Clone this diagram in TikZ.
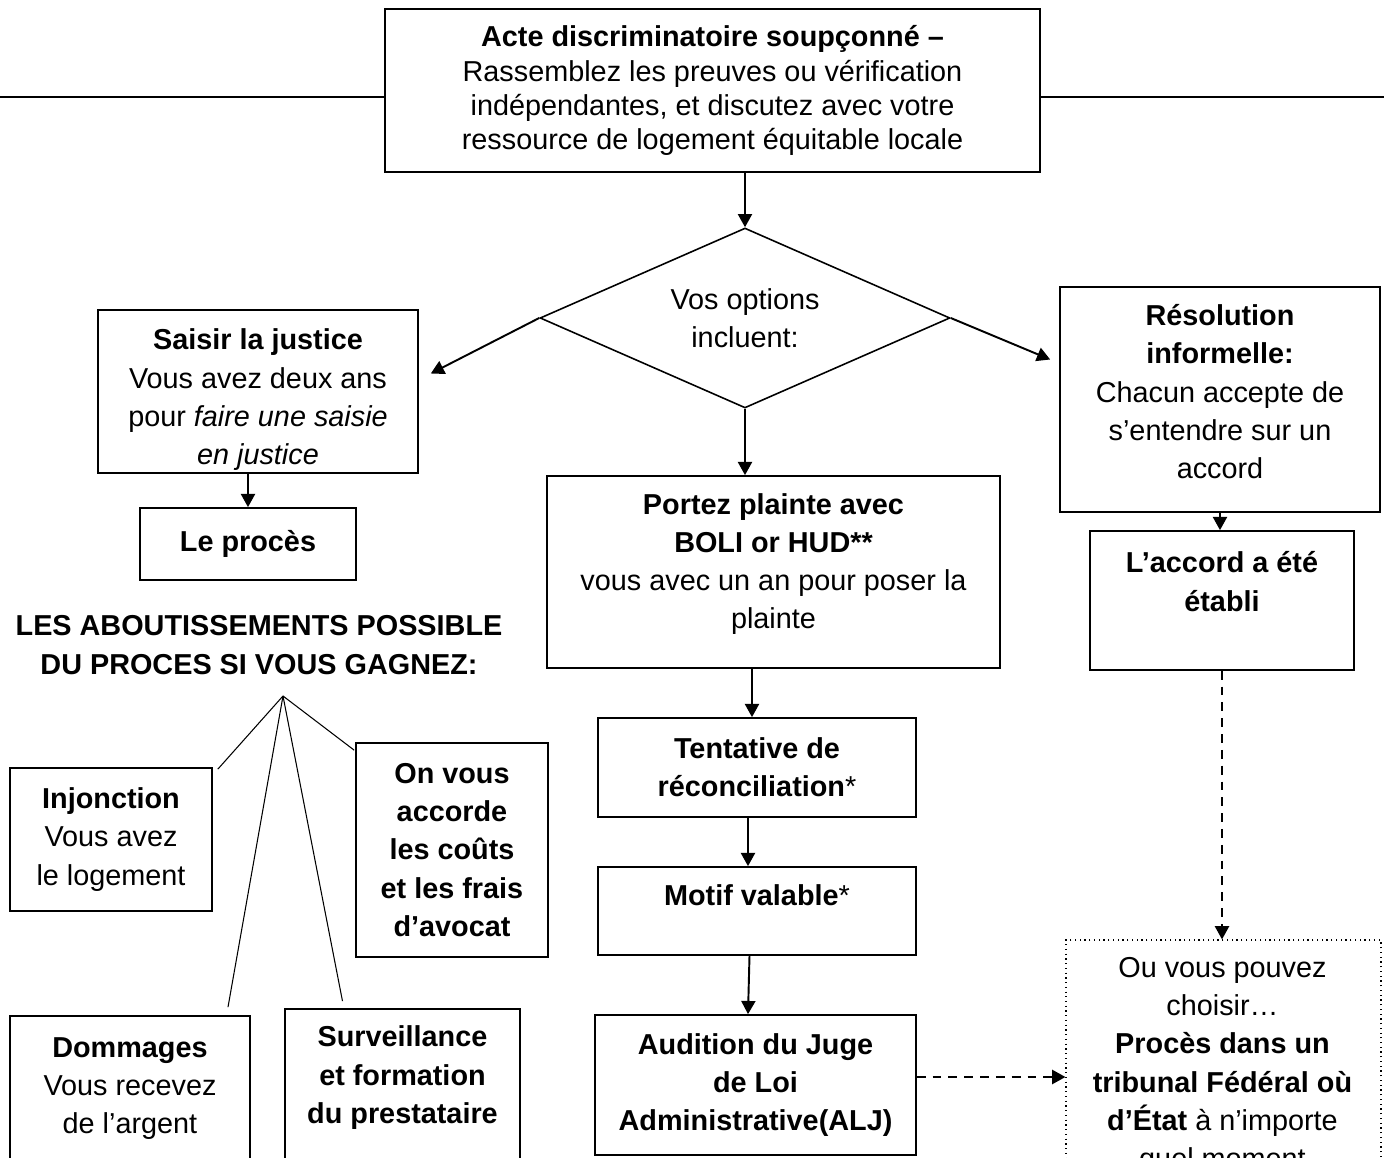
\documentclass[tikz,border=0pt]{standalone}
\usepackage{fontspec}
\setmainfont{Liberation Sans}
\usetikzlibrary{arrows.meta,shapes.geometric,positioning}

\begin{document}
\begin{tikzpicture}[x=0.02cm, y=-0.02cm,
  every node/.style={font=\fontsize{16.4pt}{21.8pt}\selectfont, align=center},
  box/.style={draw, line width=1pt, inner sep=2pt},
  arrow/.style={-{Triangle[length=7.5pt,width=8pt]}, line width=1.1pt},
  dasharrow/.style={arrow, dash pattern=on 5pt off 4pt},
  fanline/.style={line width=0.6pt}]
  \useasboundingbox (0,0) rectangle (1384,1158);

  % Start and options
  \node[box, minimum width=13.1cm, minimum height=3.26cm, font=\fontsize{16.4pt}{19.4pt}\selectfont]
    (acte) at (712.5,90.5)
    {\textbf{Acte discriminatoire soupçonné –}\\Rassemblez les preuves ou vérification\\indépendantes, et discutez avec votre\\ressource de logement équitable locale};
  \node[draw, diamond, aspect=2.28, line width=0.9pt, minimum width=8.2cm, minimum height=3.6cm, inner sep=0pt]
    (options) at (745,318) {Vos options\\incluent:};
  \coordinate (bordgauche) at (0,97);
  \coordinate (borddroit) at (1384,97);

  % Left column: court
  \node[box, inner sep=0pt, minimum width=6.4cm, minimum height=3.26cm] (saisir) at (258,391.5)
    {\mbox{}\\[-0.5pt]\textbf{Saisir la justice}\\Vous avez deux ans\\pour \textit{faire une saisie}\\\textit{en justice}};
  \node[box, minimum width=4.32cm, minimum height=1.44cm] (proces) at (248,544) {\textbf{Le procès}};
  \node (titre) at (259,645) {\textbf{LES ABOUTISSEMENTS POSSIBLE}\\\textbf{DU PROCES SI VOUS GAGNEZ:}};
  \coordinate (fan) at (283,696);

  % Outcomes
  \node[box, minimum width=4.04cm, minimum height=2.86cm] (injonction) at (111,839.5)
    {\textbf{Injonction}\\Vous avez\\le logement};
  \node[box, minimum width=3.84cm, minimum height=4.28cm] (frais) at (452,850)
    {\textbf{On vous}\\\textbf{accorde}\\\textbf{les coûts}\\\textbf{et les frais}\\\textbf{d’avocat}};
  \node[box, minimum width=4.8cm, minimum height=2.9cm] (dommages) at (130,1088.5)
    {\textbf{Dommages}\\Vous recevez\\de l’argent};
  \node[box, minimum width=4.7cm, minimum height=3.06cm] (surveillance) at (402.5,1085.5)
    {\textbf{Surveillance}\\\textbf{et formation}\\\textbf{du prestataire}\\[-9.4pt]\mbox{}};

  % Middle column: complaint
  \node[box, minimum width=9.06cm, minimum height=3.84cm] (plainte) at (773.5,572)
    {\textbf{Portez plainte avec}\\\textbf{BOLI or HUD**}\\vous avec un an pour poser la\\plainte\\[-9.4pt]\mbox{}};
  \node[box, minimum width=6.36cm, minimum height=1.98cm] (tentative) at (757,767.5)
    {\textbf{Tentative de}\\\textbf{réconciliation}*};
  \node[box, minimum width=6.36cm, minimum height=1.76cm] (motif) at (757,911)
    {\textbf{Motif valable}*\\[-4pt]\mbox{}};
  \node[box, minimum width=6.42cm, minimum height=2.8cm] (audition) at (755.5,1085)
    {\textbf{Audition du Juge}\\\textbf{de Loi}\\\textbf{Administrative(ALJ)}};

  % Right column: informal
  \node[box, minimum width=6.4cm, minimum height=4.5cm] (informelle) at (1220,399.5)
    {\textbf{Résolution}\\\textbf{informelle:}\\Chacun accepte de\\s’entendre sur un\\accord\\[-12.8pt]\mbox{}};
  \node[box, minimum width=5.28cm, minimum height=2.78cm] (accord) at (1222,600.5)
    {\textbf{L’accord a été}\\\textbf{établi}\\\mbox{}};
  \node[draw, dotted, line width=0.7pt, minimum width=6.3cm, minimum height=4.4cm] (choix) at (1223.5,1050) {};
  \node (choixtexte) at (1222.5,1066)
    {Ou vous pouvez\\choisir…\\\textbf{Procès dans un}\\\textbf{tribunal Fédéral où}\\\textbf{d’État} à n’importe\\quel moment};

  % Connectors
  \draw[line width=1pt] (bordgauche) -- (bordgauche -| acte.west);
  \draw[line width=1pt] (acte.east |- borddroit) -- (borddroit);
  \draw[arrow] (options.north |- acte.south) -- (options.north);
  \draw[arrow] (options.west) -- ([shift={(12,-18)}]saisir.east);
  \draw[arrow] (options.east) -- ([shift={(-9,-40)}]informelle.west);
  \draw[arrow] (options.south) -- (options.south |- plainte.north);
  \draw[arrow] (proces.north |- saisir.south) -- (proces.north);
  \draw[arrow] ([xshift=-0.1cm]tentative.north |- plainte.south) -- ([xshift=-0.1cm]tentative.north);
  \draw[arrow] ([xshift=-0.18cm]tentative.south) -- ([xshift=-0.18cm]motif.north);
  \draw[arrow] ([xshift=-0.15cm]motif.south) -- ([xshift=-0.15cm]audition.north);
  \draw[arrow] (informelle.south) -- (informelle.south |- accord.north);
  \draw[dasharrow] (accord.south) -- (accord.south |- choix.north);
  \draw[dasharrow] ([yshift=0.16cm]audition.east) -- ([yshift=0.16cm]audition.east -| choix.west);

  % Fan of outcomes
  \draw[fanline] (fan) -- ([shift={(5,2)}]injonction.north east);
  \draw[fanline] (fan) -- ([shift={(98,-8)}]dommages.north);
  \draw[fanline] (fan) -- ([shift={(-60,-7)}]surveillance.north);
  \draw[fanline] (fan) -- ([shift={(-1,8)}]frais.north west);
\end{tikzpicture}
\end{document}
